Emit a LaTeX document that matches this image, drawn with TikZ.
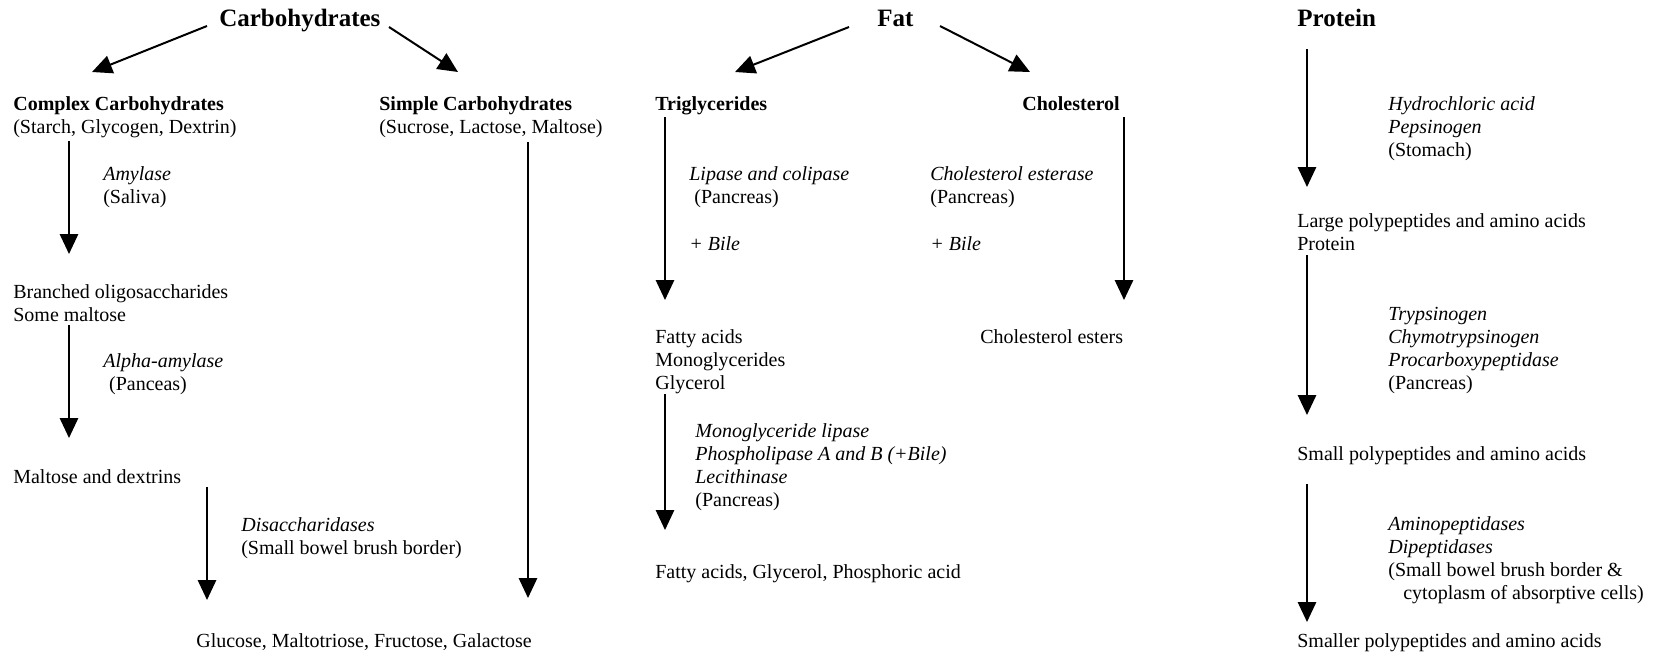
\documentclass[tikz,border=0pt]{standalone}
\usepackage{fontspec}
\setmainfont{Liberation Serif}
\usetikzlibrary{arrows.meta}
\newcommand{\ml}[1]{\begin{tabular}[t]{@{}l@{}}#1\end{tabular}}
\begin{document}
\begin{tikzpicture}[x=0.6pt,y=-0.6pt,
  arr/.style={line width=1.2pt,-{Triangle[length=12pt,width=11pt]}},
  txt/.style={anchor=base west,inner sep=0pt,font=\fontsize{12}{13.8}\selectfont},
  ttl/.style={anchor=base west,inner sep=0pt,font=\fontsize{15}{17}\selectfont\bfseries}]
\useasboundingbox (0,0) rectangle (1656,654);

% ---------------- Carbohydrates ----------------
\node[ttl] (carb) at (219,26) {Carbohydrates};
\node[txt] (cplx) at (13,110) {\ml{\textbf{Complex Carbohydrates}\\(Starch, Glycogen, Dextrin)}};
\node[txt] (simp) at (379,110) {\ml{\textbf{Simple Carbohydrates}\\(Sucrose, Lactose, Maltose)}};
\node[txt] (amyl) at (103,180) {\ml{\textit{Amylase}\\(Saliva)}};
\node[txt] (branch) at (13,298) {\ml{Branched oligosaccharides\\Some maltose}};
\node[txt] (alpha) at (103,367) {\ml{\textit{Alpha-amylase}\\\hspace*{3.5pt}(Panceas)}};
\node[txt] (maltd) at (13,483) {Maltose and dextrins};
\node[txt] (disac) at (241,531) {\ml{\textit{Disaccharidases}\\(Small bowel brush border)}};
\node[txt] (gluc) at (196,647) {Glucose, Maltotriose, Fructose, Galactose};

\coordinate (c1s) at (207,26);  \coordinate (c1e) at (92,72);
\coordinate (c2s) at (389,27);  \coordinate (c2e) at (458,72);
\coordinate (c3s) at (69,141);  \coordinate (c3e) at (69,254);
\coordinate (c4s) at (69,325);  \coordinate (c4e) at (69,438);
\coordinate (c5s) at (207,487); \coordinate (c5e) at (207,600);
\coordinate (c6s) at (528,142); \coordinate (c6e) at (528,598);
\draw[arr] (c1s) -- (c1e);
\draw[arr] (c2s) -- (c2e);
\draw[arr] (c3s) -- (c3e);
\draw[arr] (c4s) -- (c4e);
\draw[arr] (c5s) -- (c5e);
\draw[arr] (c6s) -- (c6e);

% ---------------- Fat ----------------
\node[ttl] (fat) at (877,26) {Fat};
\node[txt] (trig) at (655,110) {\textbf{Triglycerides}};
\node[txt] (chol) at (1022,110) {\textbf{Cholesterol}};
\node[txt] (lip) at (689,180) {\ml{\textit{Lipase and colipase}\\\hspace*{3pt}(Pancreas)}};
\node[txt] (bile1) at (689,250) {\textit{+ Bile}};
\node[txt] (chest) at (930,180) {\ml{\textit{Cholesterol esterase}\\(Pancreas)}};
\node[txt] (bile2) at (930,250) {\textit{+ Bile}};
\node[txt] (fa) at (655,343) {\ml{Fatty acids\\Monoglycerides\\Glycerol}};
\node[txt] (chole) at (980,343) {Cholesterol esters};
\node[txt] (mono) at (695,437) {\ml{\textit{Monoglyceride lipase}\\\textit{Phospholipase A and B (+Bile)}\\\textit{Lecithinase}\\(Pancreas)}};
\node[txt] (fgp) at (655,578) {Fatty acids, Glycerol, Phosphoric acid};

\coordinate (f1s) at (849,27);  \coordinate (f1e) at (735,72);
\coordinate (f2s) at (940,26);  \coordinate (f2e) at (1030,72);
\coordinate (f3s) at (665,117); \coordinate (f3e) at (665,300);
\coordinate (f4s) at (1124,117);\coordinate (f4e) at (1124,300);
\coordinate (f5s) at (665,394); \coordinate (f5e) at (665,530);
\draw[arr] (f1s) -- (f1e);
\draw[arr] (f2s) -- (f2e);
\draw[arr] (f3s) -- (f3e);
\draw[arr] (f4s) -- (f4e);
\draw[arr] (f5s) -- (f5e);

% ---------------- Protein ----------------
\node[ttl] (prot) at (1297,26) {Protein};
\node[txt] (hcl) at (1388,110) {\ml{\textit{Hydrochloric acid}\\\textit{Pepsinogen}\\(Stomach)}};
\node[txt] (large) at (1297,227) {\ml{Large polypeptides and amino acids\\Protein}};
\node[txt] (tryp) at (1388,320) {\ml{\textit{Trypsinogen}\\\textit{Chymotrypsinogen}\\\textit{Procarboxypeptidase}\\(Pancreas)}};
\node[txt] (small) at (1297,460) {Small polypeptides and amino acids};
\node[txt] (amino) at (1388,530) {\ml{\textit{Aminopeptidases}\\\textit{Dipeptidases}\\(Small bowel brush border \&\\\hspace*{9pt}cytoplasm of absorptive cells)}};
\node[txt] (smaller) at (1297,647) {Smaller polypeptides and amino acids};

\coordinate (p1s) at (1307,49);  \coordinate (p1e) at (1307,187);
\coordinate (p2s) at (1307,255); \coordinate (p2e) at (1307,415);
\coordinate (p3s) at (1307,484); \coordinate (p3e) at (1307,622);
\draw[arr] (p1s) -- (p1e);
\draw[arr] (p2s) -- (p2e);
\draw[arr] (p3s) -- (p3e);
\end{tikzpicture}
\end{document}
